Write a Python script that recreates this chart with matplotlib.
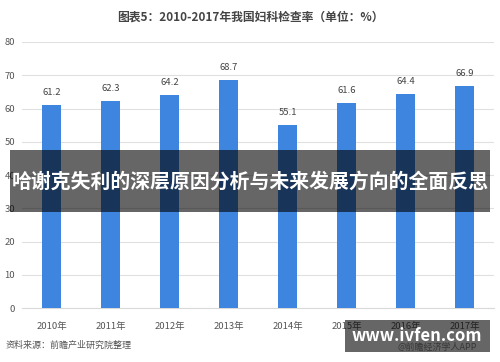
import matplotlib
matplotlib.use("Agg")
import matplotlib.pyplot as plt
from matplotlib.patches import Rectangle

plt.rcParams['font.family'] = ['Noto Sans CJK SC', 'DejaVu Sans']

years = ['2010年', '2011年', '2012年', '2013年', '2014年', '2015年', '2016年', '2017年']
rates = [61.2, 62.3, 64.2, 68.7, 55.1, 61.6, 64.4, 66.9]
yticks = [0, 10, 20, 30, 40, 50, 60, 70, 80]

fig = plt.figure(figsize=(5, 3.62), dpi=100)
ax = fig.add_axes([0.044, 0.149, 0.944, 0.735])
x = list(range(len(years)))
ax.bar(x, rates, width=0.32, color='#3e85e0', zorder=3)
for xi, v in zip(x, rates):
    ax.text(xi, v + 2.4, f'{v}', ha='center', va='bottom', fontsize=6.8, color='#444444')
ax.set_xlim(-0.5, len(years) - 0.5)
ax.set_ylim(0, 80)
ax.set_yticks(yticks)
ax.set_yticklabels([str(t) for t in yticks], fontsize=6.8, color='#555555')
ax.set_xticks(x)
ax.set_xticklabels(years, fontsize=6.8, color='#555555')
ax.tick_params(axis='x', length=0, pad=10)
ax.tick_params(axis='y', length=0, pad=5)
ax.grid(axis='y', color='#e0e0e0', linewidth=0.8, zorder=0)
for s in ['top', 'right', 'left']:
    ax.spines[s].set_visible(False)
ax.spines['bottom'].set_color('#d9d9d9')

fig.text(0.5, 1 - 17 / 362, '图表5：2010-2017年我国妇科检查率（单位：%）', ha='center', va='center',
         fontsize=8.5, fontweight='bold', color='#444444')
fig.text(0.012, 1 - 345 / 362, '资料来源：前瞻产业研究院整理', ha='left', va='center',
         fontsize=6.5, style='italic', color='#555555')
fig.text(0.955, 1 - 347 / 362, '@前瞻经济学人APP', ha='right', va='center',
         fontsize=6.5, color='#888888')

# banner overlay
fig.patches.append(Rectangle((10 / 500, 1 - 212 / 362), 480 / 500, 62 / 362,
                             transform=fig.transFigure, facecolor='black', alpha=0.6,
                             edgecolor='none', zorder=5))
fig.text(0.5, 1 - 181 / 362, '哈谢克失利的深层原因分析与未来发展方向的全面反思', ha='center', va='center',
         fontsize=14.3, fontweight='bold', color='white', zorder=6)

fig.patches.append(Rectangle((345 / 500, 1 - 352 / 362), 145 / 500, 32 / 362,
                             transform=fig.transFigure, facecolor='black', alpha=0.6,
                             edgecolor='none', zorder=5))
fig.text(417 / 500, 1 - 336 / 362, 'www.ivfen.com', ha='center', va='center',
         fontsize=12, fontweight='bold', color='white', zorder=6)

fig.savefig('out.png', dpi=100)
